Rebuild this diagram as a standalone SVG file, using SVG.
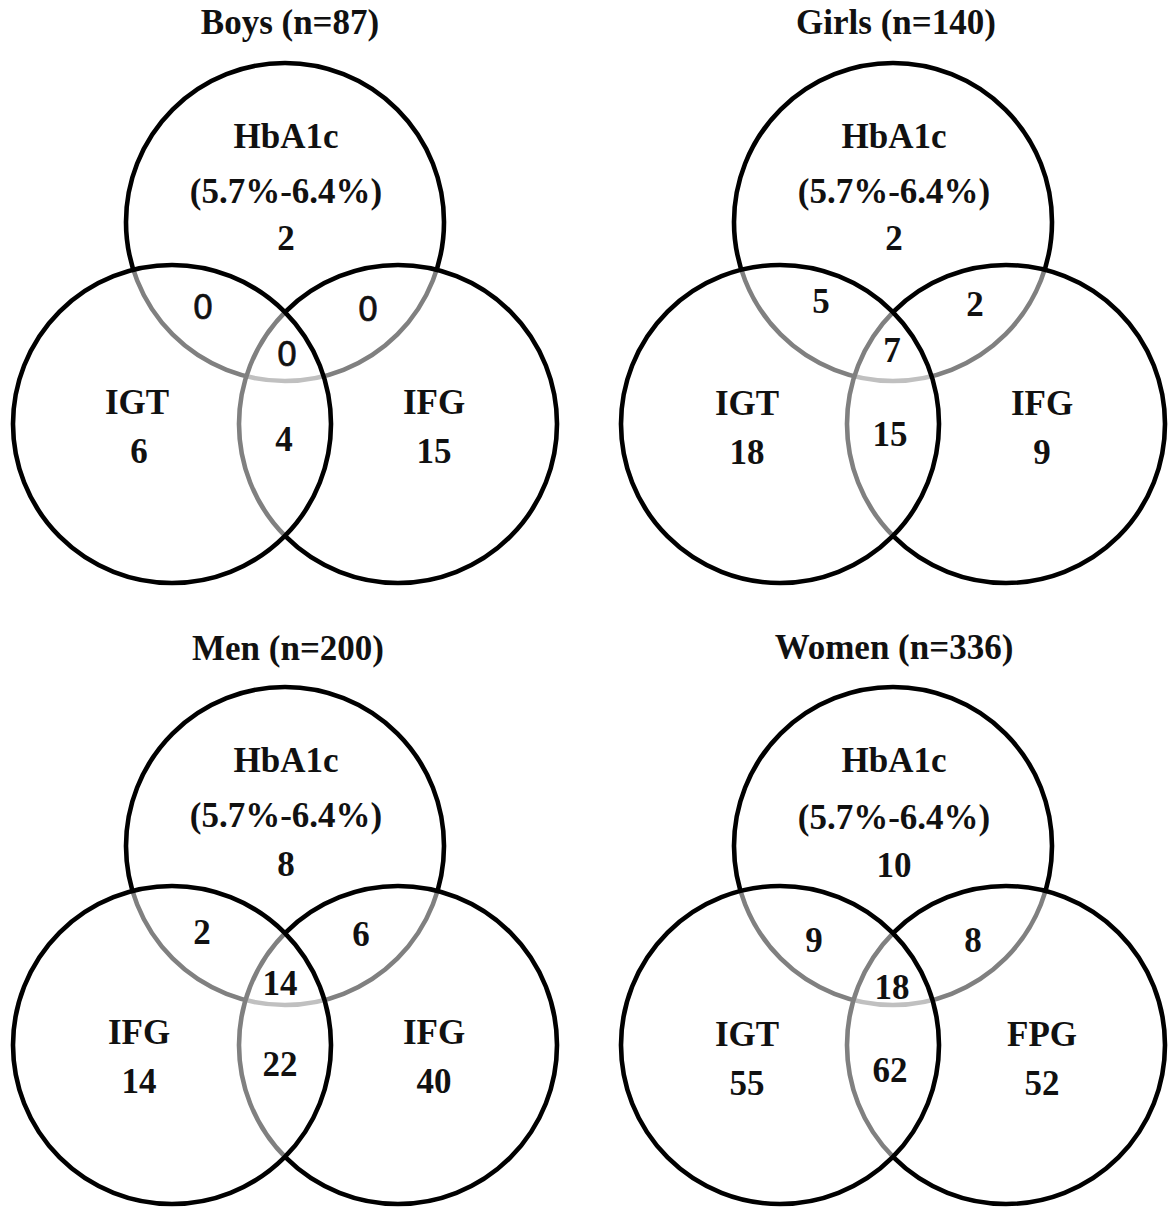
<svg xmlns="http://www.w3.org/2000/svg" width="1168" height="1207" viewBox="0 0 1168 1207">
<style>
.c{fill:#fff;fill-opacity:0.5;stroke:#000;stroke-width:4.6}
.t{font-family:"Liberation Serif","Times New Roman",serif;font-weight:bold;font-size:35px;fill:#111;text-anchor:middle}
.s{font-family:"DejaVu Sans","Liberation Sans",Arial,sans-serif;font-size:33px;fill:#111;text-anchor:middle;stroke:#111;stroke-width:0.6}
</style>
<rect width="1168" height="1207" fill="#fff"/>
<g id="boys">
<g id="boys-hba1c"><circle class="c" cx="285" cy="222" r="159"/></g>
<g id="boys-ifg"><circle class="c" cx="398" cy="424" r="159"/></g>
<g id="boys-igt"><circle class="c" cx="172" cy="424" r="159"/></g>
<g id="boys-labels">
<text class="t" x="290" y="34">Boys (n=87)</text>
<text class="t" x="286" y="148">HbA1c</text>
<text class="t" x="286" y="203">(5.7%-6.4%)</text>
<text class="t" x="286" y="250">2</text>
<text class="s" x="203" y="319">0</text>
<text class="s" x="368" y="321">0</text>
<text class="s" x="287" y="366">0</text>
<text class="t" x="137" y="414">IGT</text>
<text class="t" x="139" y="463">6</text>
<text class="t" x="284" y="451">4</text>
<text class="t" x="434" y="414">IFG</text>
<text class="t" x="434" y="463">15</text>
</g>
</g>
<g id="girls">
<g id="girls-hba1c"><circle class="c" cx="893" cy="222" r="159"/></g>
<g id="girls-ifg"><circle class="c" cx="1006" cy="424" r="159"/></g>
<g id="girls-igt"><circle class="c" cx="780" cy="424" r="159"/></g>
<g id="girls-labels">
<text class="t" x="896" y="34">Girls (n=140)</text>
<text class="t" x="894" y="148">HbA1c</text>
<text class="t" x="894" y="203">(5.7%-6.4%)</text>
<text class="t" x="894" y="250">2</text>
<text class="t" x="821" y="313">5</text>
<text class="t" x="975" y="316">2</text>
<text class="t" x="892" y="362">7</text>
<text class="t" x="747" y="415">IGT</text>
<text class="t" x="747" y="464">18</text>
<text class="t" x="890" y="446">15</text>
<text class="t" x="1042" y="415">IFG</text>
<text class="t" x="1042" y="464">9</text>
</g>
</g>
<g id="men">
<g id="men-hba1c"><circle class="c" cx="285" cy="846" r="159"/></g>
<g id="men-ifg-right"><circle class="c" cx="398" cy="1045" r="159"/></g>
<g id="men-ifg-left"><circle class="c" cx="172" cy="1045" r="159"/></g>
<g id="men-labels">
<text class="t" x="288" y="660">Men (n=200)</text>
<text class="t" x="286" y="772">HbA1c</text>
<text class="t" x="286" y="827">(5.7%-6.4%)</text>
<text class="t" x="286" y="876">8</text>
<text class="t" x="202" y="944">2</text>
<text class="t" x="361" y="946">6</text>
<text class="t" x="280" y="995">14</text>
<text class="t" x="139" y="1044">IFG</text>
<text class="t" x="139" y="1093">14</text>
<text class="t" x="280" y="1076">22</text>
<text class="t" x="434" y="1044">IFG</text>
<text class="t" x="434" y="1093">40</text>
</g>
</g>
<g id="women">
<g id="women-hba1c"><circle class="c" cx="893" cy="846" r="159"/></g>
<g id="women-fpg"><circle class="c" cx="1006" cy="1045" r="159"/></g>
<g id="women-igt"><circle class="c" cx="780" cy="1045" r="159"/></g>
<g id="women-labels">
<text class="t" x="894" y="659">Women (n=336)</text>
<text class="t" x="894" y="772">HbA1c</text>
<text class="t" x="894" y="829">(5.7%-6.4%)</text>
<text class="t" x="894" y="877">10</text>
<text class="t" x="814" y="952">9</text>
<text class="t" x="973" y="952">8</text>
<text class="t" x="892" y="999">18</text>
<text class="t" x="747" y="1046">IGT</text>
<text class="t" x="747" y="1095">55</text>
<text class="t" x="890" y="1082">62</text>
<text class="t" x="1042" y="1046">FPG</text>
<text class="t" x="1042" y="1095">52</text>
</g>
</g>
</svg>
